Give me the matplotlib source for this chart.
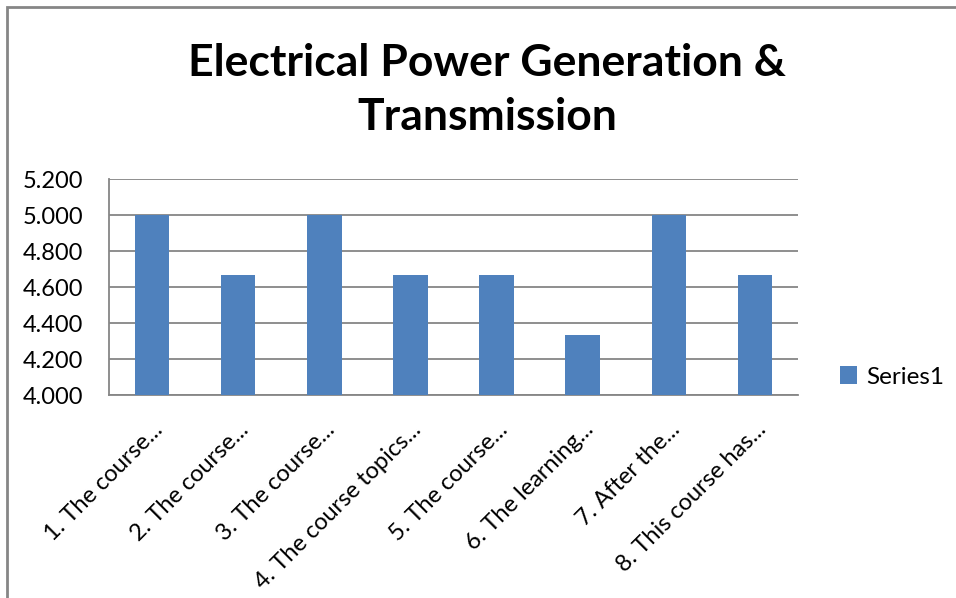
import matplotlib.pyplot as plt
from matplotlib.patches import Rectangle
from matplotlib.ticker import FormatStrFormatter

plt.rcParams["font.family"] = ["Lato", "DejaVu Sans"]

labels = ["1. The course...", "2. The course...", "3. The course...",
          "4. The course topics...", "5. The course...", "6. The learning...",
          "7. After the...", "8. This course has..."]
values = [5.0, 4.667, 5.0, 4.667, 4.667, 4.333, 5.0, 4.667]

fig = plt.figure(figsize=(9.56, 5.98), dpi=100)
ax = fig.add_axes([109 / 956, 1 - 395 / 598, (798 - 109) / 956, (395 - 179) / 598])

x = range(len(values))
ax.bar(x, values, width=0.4, color="#4F81BD", label="Series1", zorder=3)

ax.set_ylim(4.0, 5.2)
ax.set_xlim(-0.5, len(values) - 0.5)
ax.set_yticks([4.0, 4.2, 4.4, 4.6, 4.8, 5.0, 5.2])
ax.yaxis.set_major_formatter(FormatStrFormatter("%.3f"))
ax.grid(axis="y", color="#868686", linewidth=1.3, zorder=0)
ax.set_xticks(list(x))
ax.set_xticklabels(labels, rotation=45, ha="right", rotation_mode="anchor")
ax.tick_params(length=0, labelsize=17, colors="black")
ax.tick_params(axis="y", pad=18.5)
ax.tick_params(axis="x", pad=17)
for s in ["top", "right"]:
    ax.spines[s].set_visible(False)
for s in ["left", "bottom"]:
    ax.spines[s].set_color("#868686")
    ax.spines[s].set_linewidth(1.3)

fig.text(487 / 956, 1 - 90 / 598, "Electrical Power Generation &\nTransmission",
         ha="center", va="center", fontsize=32, fontweight="bold", linespacing=1.45)

fig.legend(loc="center left", bbox_to_anchor=(818 / 956, 1 - 377 / 598),
           frameon=False, fontsize=17.5, handlelength=0.7, handleheight=0.7,
           handletextpad=0.4)

fig.patches.append(Rectangle((7 / 956, -0.1), 1.2, 1.1 - 7 / 598, transform=fig.transFigure,
                             fill=False, edgecolor="#868686", linewidth=2))

fig.savefig("out.png", dpi=100)
